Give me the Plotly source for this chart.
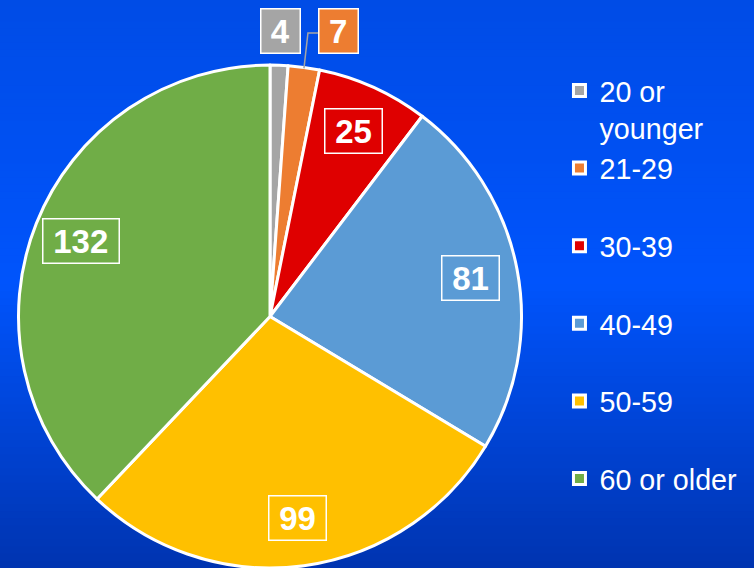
import math
import plotly.graph_objects as go

# ---- data ----
age_groups = ["20 or younger", "21-29", "30-39", "40-49", "50-59", "60 or older"]
legend_text = ["20 or<br>younger", "21-29<br> ", "30-39<br> ", "40-49<br> ", "50-59<br> ", "60 or older<br> "]
counts = [4, 7, 25, 81, 99, 132]
colors = ["#A5A5A5", "#ED7D31", "#DF0000", "#5B9BD5", "#FFC000", "#70AD47"]

W, H = 754, 568
# pie geometry in pixels (layout)
top_px = 65
r_px = (H - top_px) / 2
cx_px, cy_px = 270, top_px + r_px

fig = go.Figure()
fig.add_trace(go.Pie(
    labels=legend_text,
    values=counts,
    sort=False,
    direction="clockwise",
    rotation=0,
    marker=dict(colors=colors, line=dict(color="white", width=3)),
    textinfo="none",
    hoverinfo="label+value",
    domain=dict(x=[(cx_px - r_px) / W, (cx_px + r_px) / W],
                y=[0, 1 - top_px / H]),
))

# ---- background gradient ----
shapes = []
N = 80
def lerp(a, b, t):
    return tuple(int(round(a[i] + (b[i] - a[i]) * t)) for i in range(3))
top_c, mid_c, bot_c = (0, 76, 230), (0, 84, 252), (0, 52, 176)
for i in range(N):
    t = (i + 0.5) / N
    c = lerp(top_c, mid_c, t / 0.5) if t < 0.5 else lerp(mid_c, bot_c, (t - 0.5) / 0.5)
    shapes.append(dict(type="rect", xref="paper", yref="paper", x0=0, x1=1,
                       y0=max(0, 1 - (i + 1) / N - 0.002), y1=1 - i / N,
                       fillcolor="rgb(%d,%d,%d)" % c, line=dict(width=0), layer="below"))

# ---- value labels ----
total = sum(counts)
annotations = []
cum = 0
font = dict(family="Liberation Sans, Arial, sans-serif", size=33, color="white")
for i, v in enumerate(counts):
    mid = (cum + v / 2) / total * 2 * math.pi
    cum += v
    frac = v / total
    wtxt = 18.5 * len(str(v)) + 13
    common = dict(xref="paper", yref="paper", xanchor="center", yanchor="middle",
                  text="<b>%d</b>" % v, showarrow=False, font=font,
                  bordercolor="white", borderwidth=1.5, borderpad=3,
                  width=wtxt, align="center")
    if frac > 0.05:
        rr = 0.81 * r_px
        x = cx_px + rr * math.sin(mid)
        y = cy_px - rr * math.cos(mid)
        annotations.append(dict(x=x / W, y=1 - y / H, **common))
    else:
        rr = 1.13 * r_px
        x = cx_px + rr * math.sin(mid)
        y = 31
        if i == 1:
            tipx = cx_px + r_px * math.sin(mid)
            tipy = cy_px - r_px * math.cos(mid)
            x = tipx + 35
            bx = x - (wtxt + 8) / 2
            shapes.append(dict(type="path", xref="paper", yref="paper",
                               path="M %f %f L %f %f L %f %f" % (tipx / W, 1 - (tipy + 1) / H,
                                                                 (tipx + 4) / W, 1 - (y + 2) / H,
                                                                 bx / W, 1 - (y + 2) / H),
                               line=dict(color="#A5A5A5", width=1.5)))
        annotations.append(dict(x=x / W, y=1 - y / H, bgcolor=colors[i], **common))

fig.update_layout(
    width=W, height=H,
    margin=dict(l=0, r=0, t=0, b=0),
    paper_bgcolor="rgb(0,76,230)",
    plot_bgcolor="rgba(0,0,0,0)",
    shapes=shapes,
    annotations=annotations,
    showlegend=True,
    legend=dict(x=0.742, y=0.885, xanchor="left", yanchor="top",
                font=dict(family="Liberation Sans, Arial, sans-serif", size=28.7, color="white"),
                valign="top", bgcolor="rgba(0,0,0,0)", tracegroupgap=0),
)

fig.write_html("out.html", config={"displayModeBar": False},
               post_script="document.body.style.margin='0';")
